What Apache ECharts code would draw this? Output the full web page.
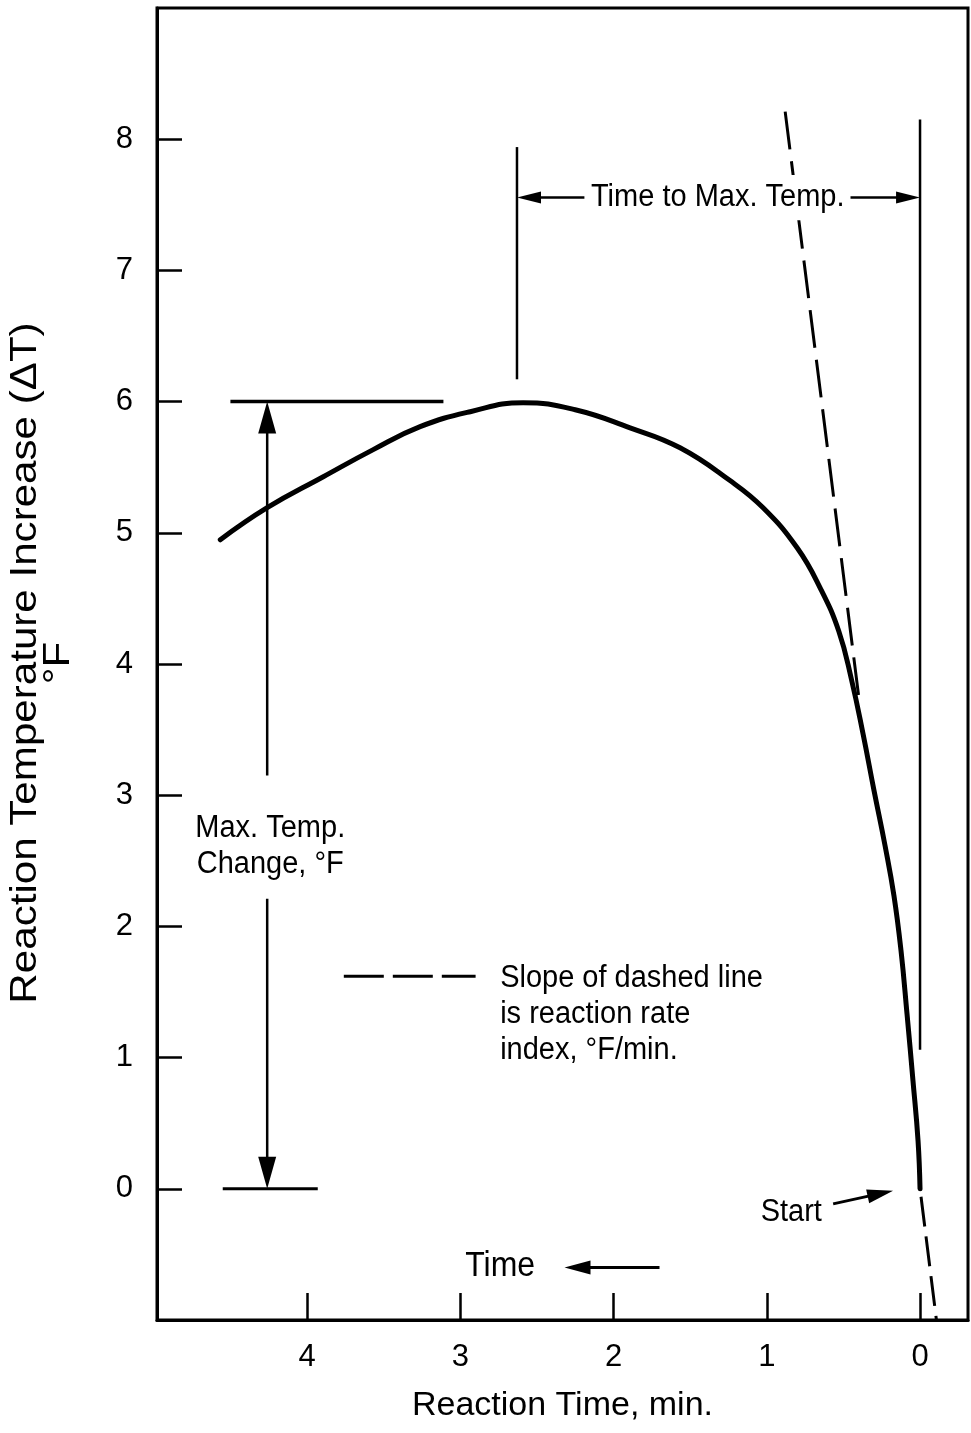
<!DOCTYPE html>
<html>
<head>
<meta charset="utf-8">
<script src="https://cdn.jsdelivr.net/npm/echarts@6/dist/echarts.min.js"></script>
<style>
  html, body { margin: 0; padding: 0; background: #fff; }
  #chart { width: 971px; height: 1433px; }
</style>
</head>
<body>
<div id="chart"></div>
<script>
// Temperature rise of the reaction against elapsed time (time runs right to left)
const reactionTime = [4.566, 4.26, 3.894, 3.568, 3.262, 2.935, 2.59, 2.25, 1.892, 1.566, 1.24, 1.024, 0.802, 0.652, 0.53, 0.447, 0.372, 0.30, 0.228, 0.170, 0.124, 0.085, 0.046, 0.013, 0];
const tempIncrease = [4.947, 5.191, 5.427, 5.634, 5.809, 5.923, 5.992, 5.938, 5.80, 5.648, 5.398, 5.191, 4.886, 4.581, 4.25, 3.88, 3.468, 3.034, 2.614, 2.233, 1.814, 1.334, 0.823, 0.366, 0];

// Tangent at the start of the reaction, drawn in two visible pieces
const tangentUpperTime = [0.88, 0.40];
const tangentUpperTemp = [8.21, 3.75];
const tangentLowerTime = [0, -0.107];
const tangentLowerTemp = [0, -1.0];

const maxTemp = 6;
const timeToMax = 2.63;

const xTickValues = [0, 1, 2, 3, 4];
const yTickValues = [0, 1, 2, 3, 4, 5, 6, 7, 8];

const FONT = '"Liberation Sans", Arial, Helvetica, sans-serif';

const zip = (a, b) => a.map((v, i) => [v, b[i]]);

// Construction lines and arrows, in data units
const guides = [
  { from: [4.50, maxTemp], to: [3.11, maxTemp], width: 3.5 },
  { from: [4.55, 0], to: [3.93, 0], width: 3 },
  { from: [4.26, 3.15], to: [4.26, maxTemp], width: 2.5, head: [18, 32] },
  { from: [4.26, 2.21], to: [4.26, 0], width: 2.5, head: [18, 32] },
  { from: [timeToMax, 7.94], to: [timeToMax, 6.17], width: 2.5 },
  { from: [0, 8.15], to: [0, 1.06], width: 2.5 },
  { from: [2.19, 7.555], to: [timeToMax, 7.555], width: 2.5, head: [12, 24] },
  { from: [0.46, 7.555], to: [0, 7.555], width: 2.5, head: [12, 24] },
  { from: [1.70, -0.60], to: [2.32, -0.60], width: 3, head: [14, 26] },
  { from: [0.567, -0.115], to: [0.176, -0.015], width: 3, head: [14, 26] },
  { from: [3.76, 1.62], to: [2.90, 1.62], width: 3, dash: [40, 9] }
];

const notes = [
  { at: [1.32, 7.555], text: 'Time to Max. Temp.', align: 'center', size: 29, bg: true },
  { at: [4.24, 2.61], text: 'Max. Temp.\nChange, °F', align: 'center', size: 29 },
  { at: [2.74, 1.33], text: 'Slope of dashed line\nis reaction rate\nindex, °F/min.', align: 'left', size: 29 },
  { at: [0.84, -0.18], text: 'Start', align: 'center', size: 29 },
  { at: [2.74, -0.59], text: 'Time', align: 'center', size: 32 }
];

function renderGuide(params, api) {
  const g = guides[params.dataIndex];
  const p1 = api.coord([api.value(0), api.value(1)]);
  const p2 = api.coord([api.value(2), api.value(3)]);
  const children = [];
  let end = p2;
  if (g.head) {
    const [w, len] = g.head;
    const dx = p2[0] - p1[0], dy = p2[1] - p1[1];
    const L = Math.hypot(dx, dy);
    const ux = dx / L, uy = dy / L;
    const bx = p2[0] - ux * len, by = p2[1] - uy * len;
    end = [bx + ux * 2, by + uy * 2];
    children.push({
      type: 'polygon',
      shape: { points: [p2, [bx - uy * w / 2, by + ux * w / 2], [bx + uy * w / 2, by - ux * w / 2]] },
      style: { fill: '#000' }
    });
  }
  children.push({
    type: 'line',
    shape: { x1: p1[0], y1: p1[1], x2: end[0], y2: end[1] },
    style: { stroke: '#000', lineWidth: g.width, lineDash: g.dash || null, lineCap: 'butt' }
  });
  return { type: 'group', children };
}

function renderNote(params, api) {
  const n = notes[params.dataIndex];
  const p = api.coord([api.value(0), api.value(1)]);
  return {
    type: 'text',
    x: p[0], y: p[1],
    scaleY: 1.1,
    style: {
      text: n.text,
      fontSize: n.size,
      fontFamily: FONT,
      lineHeight: 33,
      fill: '#000',
      align: n.align,
      verticalAlign: 'middle',
      backgroundColor: n.bg ? '#fff' : null,
      padding: n.bg ? [4, 6] : 0
    }
  };
}

const chart = echarts.init(document.getElementById('chart'), null, { renderer: 'canvas' });

chart.setOption({
  animation: false,
  backgroundColor: '#fff',
  grid: { left: 157, right: 3, top: 8, bottom: 113, show: true, borderColor: '#000', borderWidth: 3, backgroundColor: 'transparent' },
  xAxis: {
    type: 'value', inverse: true, min: -0.313, max: 4.979,
    axisLine: { show: true, onZero: false, lineStyle: { color: '#000', width: 3 } },
    axisTick: { show: true, inside: true, length: 27, customValues: xTickValues, lineStyle: { color: '#000', width: 2.5 } },
    axisLabel: { customValues: xTickValues, margin: 22, fontSize: 31, color: '#000', fontFamily: FONT },
    splitLine: { show: false },
    name: 'Reaction Time, min.', nameLocation: 'middle', nameGap: 69,
    nameTextStyle: { fontSize: 34, color: '#000', fontFamily: FONT }
  },
  yAxis: {
    type: 'value', min: -1, max: 9, interval: 1,
    axisLine: { show: true, onZero: false, lineStyle: { color: '#000', width: 3 } },
    axisTick: { show: true, inside: true, length: 25, customValues: yTickValues, lineStyle: { color: '#000', width: 2.5 } },
    axisLabel: { customValues: yTickValues, margin: 24, fontSize: 31, color: '#000', fontFamily: FONT },
    splitLine: { show: false }
  },
  graphic: [{
    type: 'text', x: 43, y: 663, rotation: Math.PI / 2, scaleX: 1.17,
    style: {
      text: 'Reaction Temperature Increase (ΔT)\n°F',
      fontSize: 36, lineHeight: 33, fontFamily: FONT, fill: '#000',
      align: 'center', verticalAlign: 'middle'
    }
  }],
  series: [
    {
      name: 'tangent-upper', type: 'line', data: zip(tangentUpperTime, tangentUpperTemp),
      symbol: 'none', z: 2,
      lineStyle: { color: '#000', width: 3, type: [38, 12] }
    },
    {
      name: 'tangent-lower', type: 'line', data: zip(tangentLowerTime, tangentLowerTemp),
      symbol: 'none', z: 2,
      lineStyle: { color: '#000', width: 3, type: [30, 10], dashOffset: -8 }
    },
    {
      name: 'guides', type: 'custom', renderItem: renderGuide, z: 3, clip: false,
      encode: { x: [0, 2], y: [1, 3] },
      data: guides.map(g => [g.from[0], g.from[1], g.to[0], g.to[1]])
    },
    {
      name: 'ΔT', type: 'line', data: zip(reactionTime, tempIncrease),
      symbol: 'none', smooth: 0.45, z: 4,
      lineStyle: { color: '#000', width: 5, cap: 'round', join: 'round' }
    },
    {
      name: 'notes', type: 'custom', renderItem: renderNote, z: 6, clip: false,
      encode: { x: 0, y: 1 },
      data: notes.map(n => n.at)
    }
  ]
});
</script>
</body>
</html>
